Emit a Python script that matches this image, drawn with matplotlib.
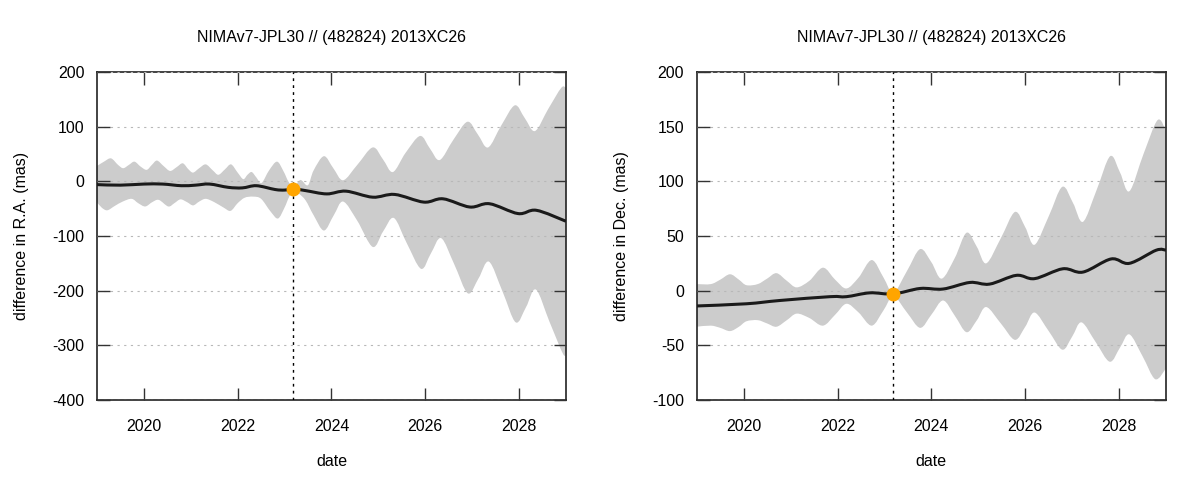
import matplotlib
matplotlib.use("Agg")
import matplotlib.pyplot as plt
from matplotlib.path import Path
from matplotlib.patches import PathPatch
import numpy as np

plt.rcParams['font.family'] = ['Liberation Sans', 'DejaVu Sans']
plt.rcParams['axes.unicode_minus'] = False

title = "NIMAv7-JPL30 // (482824) 2013XC26"
epoch = 2023.19

# R.A. difference: uncertainty envelope (upper / lower) and nominal curve
ra_up_t = [2019.00, 2019.15, 2019.30, 2019.45, 2019.56, 2019.68, 2019.80, 2019.93, 2020.06, 2020.17,
           2020.28, 2020.42, 2020.56, 2020.70, 2020.83, 2020.95, 2021.05, 2021.18, 2021.32, 2021.47,
           2021.59, 2021.73, 2021.86, 2022.00, 2022.12, 2022.21, 2022.30, 2022.40, 2022.51, 2022.67,
           2022.84, 2022.98, 2023.08, 2023.19, 2023.30, 2023.36, 2023.50, 2023.62, 2023.84, 2024.04,
           2024.25, 2024.55, 2024.88, 2025.10, 2025.31, 2025.58, 2025.89, 2026.10, 2026.31, 2026.60,
           2026.90, 2027.12, 2027.34, 2027.62, 2027.91, 2028.12, 2028.34, 2028.62, 2028.90, 2029.00]
ra_up = [28, 36, 42, 30, 24, 30, 36, 27, 21, 30,
         38, 28, 19, 26, 33, 22, 16, 24, 31, 20,
         12, 22, 31, 16, 4, 12, 17, 7, -3, 20,
         36, 18, 0, -11, 0, 2, -7, 20, 46, 24,
         2, 30, 62, 40, 17, 52, 83, 60, 39, 76,
         109, 86, 62, 102, 139, 116, 92, 132, 171, 171]

ra_lo_t = [2019.00, 2019.10, 2019.22, 2019.38, 2019.55, 2019.74, 2019.88, 2020.03, 2020.18, 2020.32,
           2020.52, 2020.65, 2020.78, 2020.92, 2021.05, 2021.18, 2021.32, 2021.50, 2021.70, 2021.85,
           2022.00, 2022.15, 2022.33, 2022.50, 2022.70, 2022.86, 2023.00, 2023.10, 2023.19, 2023.30,
           2023.45, 2023.62, 2023.84, 2024.05, 2024.25, 2024.55, 2024.88, 2025.10, 2025.33, 2025.60,
           2025.91, 2026.12, 2026.34, 2026.62, 2026.91, 2027.14, 2027.36, 2027.65, 2027.93, 2028.15,
           2028.36, 2028.65, 2028.94, 2029.00]
ra_lo = [-38, -48, -53, -45, -37, -32, -40, -46, -38, -34,
         -46, -40, -33, -38, -44, -37, -32, -38, -48, -54,
         -40, -30, -28, -32, -55, -68, -48, -28, -17, -22,
         -35, -62, -90, -62, -37, -72, -120, -92, -67, -112,
         -160, -132, -104, -152, -205, -177, -147, -202, -258, -230,
         -198, -257, -316, -312]

ra_t = [2019.00, 2019.50, 2020.00, 2020.40, 2020.80, 2021.10, 2021.40, 2021.80, 2022.10, 2022.40,
        2022.80, 2023.00, 2023.19, 2023.45, 2023.90, 2024.31, 2024.88, 2025.35, 2025.97, 2026.38,
        2026.95, 2027.37, 2027.98, 2028.37, 2029.00]
ra_val = [-6, -7, -5, -5, -8, -7, -5, -11, -12, -8,
          -15, -16, -14, -17, -23, -18, -29, -24, -38, -32,
          -47, -41, -59, -53, -73]
ra_epoch_val = -14

# Dec. difference
de_up_t = [2019.00, 2019.30, 2019.50, 2019.71, 2019.90, 2020.06, 2020.30, 2020.50, 2020.70, 2020.92,
           2021.13, 2021.40, 2021.69, 2021.95, 2022.19, 2022.45, 2022.73, 2022.98, 2023.19, 2023.48,
           2023.76, 2024.00, 2024.22, 2024.50, 2024.75, 2024.97, 2025.17, 2025.48, 2025.78, 2026.00,
           2026.20, 2026.50, 2026.79, 2027.02, 2027.23, 2027.52, 2027.81, 2028.02, 2028.22, 2028.52,
           2028.82, 2029.00]
de_up = [6, 6, 10, 15, 10, 5, 6, 11, 16, 9,
         3, 9, 21, 10, 2, 12, 28, 12, -2, 18,
         38, 26, 11, 30, 53, 40, 25, 48, 72, 58,
         42, 68, 95, 80, 63, 92, 123, 108, 91, 125,
         156, 146]

de_lo_t = [2019.00, 2019.30, 2019.50, 2019.71, 2019.90, 2020.06, 2020.30, 2020.50, 2020.70, 2020.92,
           2021.13, 2021.40, 2021.69, 2021.95, 2022.19, 2022.45, 2022.73, 2022.98, 2023.19, 2023.48,
           2023.76, 2024.00, 2024.25, 2024.50, 2024.75, 2024.97, 2025.17, 2025.48, 2025.78, 2026.00,
           2026.20, 2026.50, 2026.79, 2027.00, 2027.20, 2027.50, 2027.80, 2028.02, 2028.22, 2028.50,
           2028.77, 2029.00]
de_lo = [-33, -32, -34, -37, -33, -28, -27, -30, -33, -27,
         -21, -25, -32, -22, -12, -20, -32, -18, -5, -20,
         -34, -22, -9, -23, -38, -27, -15, -30, -45, -33,
         -20, -37, -54, -42, -29, -47, -65, -52, -40, -60,
         -81, -71]

de_t = [2019.00, 2020.06, 2020.77, 2021.84, 2022.19, 2022.69, 2023.19, 2023.76, 2024.25, 2024.82,
        2025.24, 2025.81, 2026.20, 2026.80, 2027.23, 2027.83, 2028.22, 2028.79, 2029.00]
de_val = [-14, -12, -9, -5.5, -5.5, -2, -3, 2, 1.5, 7.5,
          6, 14, 11, 20, 17, 29, 25, 37, 37]
de_epoch_val = -3

xticks = [2020, 2022, 2024, 2026, 2028]
FS = 11.5


def bezier(x, y):
    # smooth curve through the points (Catmull-Rom drawn as cubic Bezier segments)
    p = np.column_stack([x, y]).astype(float)
    n = len(p)
    verts = [p[0]]
    for i in range(n - 1):
        p0 = p[max(i - 1, 0)]
        p1 = p[i]
        p2 = p[i + 1]
        p3 = p[min(i + 2, n - 1)]
        verts += [p1 + (p2 - p0) / 6, p2 - (p3 - p1) / 6, p2]
    return verts


def panel(ax, up_t, up, lo_t, lo, t, val, ev, ylim, yticks, ylabel):
    vu = bezier(up_t, up)
    vl = bezier(lo_t[::-1], lo[::-1])
    verts = vu + vl + [vu[0]]
    codes = ([Path.MOVETO] + [Path.CURVE4] * (len(vu) - 1) +
             [Path.LINETO] + [Path.CURVE4] * (len(vl) - 1) + [Path.CLOSEPOLY])
    ax.add_patch(PathPatch(Path(verts, codes), facecolor='#cccccc', lw=0, zorder=1))

    vc = bezier(t, val)
    cc = [Path.MOVETO] + [Path.CURVE4] * (len(vc) - 1)
    ax.add_patch(PathPatch(Path(vc, cc), facecolor='none', edgecolor='#1a1a1a', lw=2.2, zorder=3))

    ax.axvline(epoch, color='black', lw=1, ls=(0, (2, 3)), zorder=4)
    ax.plot([epoch], [ev], 'o', color='#ffa500', ms=9, zorder=5)
    ax.set_xlim(2019, 2029)
    ax.set_ylim(*ylim)
    ax.set_xticks(xticks)
    ax.set_yticks(yticks)
    ax.yaxis.grid(True, color='#b8b8b8', ls=(0, (2, 4)), lw=0.8)
    ax.set_axisbelow(False)
    ax.tick_params(direction='in', length=9, width=1, top=True, right=True,
                   labelsize=FS, color='#333333')
    ax.tick_params(axis='x', pad=14)
    ax.tick_params(axis='y', pad=9)
    for s in ax.spines.values():
        s.set_linewidth(1.2)
        s.set_color('#222222')
    ax.set_xlabel('date', fontsize=FS, labelpad=14)
    ax.set_ylabel(ylabel, fontsize=FS, labelpad=17)
    ax.text(0.5, 1.105, title, transform=ax.transAxes, ha='center', va='center', fontsize=FS)


fig = plt.figure(figsize=(12, 4.8), dpi=100)
ax1 = fig.add_axes([0.0808, 0.1667, 0.3908, 0.6833])
ax2 = fig.add_axes([0.5806, 0.1667, 0.3911, 0.6833])

panel(ax1, ra_up_t, ra_up, ra_lo_t, ra_lo, ra_t, ra_val, ra_epoch_val,
      (-400, 200), [-400, -300, -200, -100, 0, 100, 200], 'difference in R.A. (mas)')
panel(ax2, de_up_t, de_up, de_lo_t, de_lo, de_t, de_val, de_epoch_val,
      (-100, 200), [-100, -50, 0, 50, 100, 150, 200], 'difference in Dec. (mas)')

fig.savefig('out.png', dpi=100)
